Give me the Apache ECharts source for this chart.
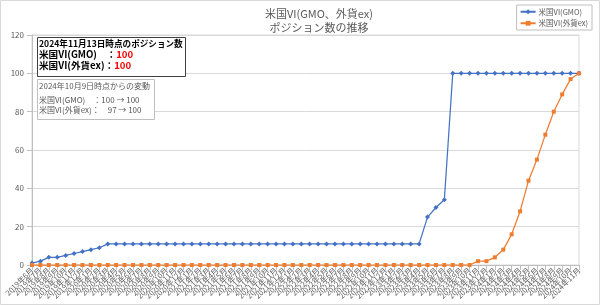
<!DOCTYPE html>
<html><head><meta charset="utf-8">
<script src="https://cdn.jsdelivr.net/npm/echarts@6/dist/echarts.min.js"></script>
<style>html,body{margin:0;padding:0;background:#fff}#c{width:600px;height:305px}</style>
</head><body><div id="c"></div>
<script>
const categories = [
"2019年6月","2019年7月","2019年8月","2019年9月","2019年10月","2019年11月","2019年12月",
"2020年1月","2020年2月","2020年3月","2020年4月","2020年5月","2020年6月","2020年7月","2020年8月","2020年9月","2020年10月","2020年11月","2020年12月",
"2021年1月","2021年2月","2021年3月","2021年4月","2021年5月","2021年6月","2021年7月","2021年8月","2021年9月","2021年10月","2021年11月","2021年12月",
"2022年1月","2022年2月","2022年3月","2022年4月","2022年5月","2022年6月","2022年7月","2022年8月","2022年9月","2022年10月","2022年11月","2022年12月",
"2023年1月","2023年2月","2023年3月","2023年4月","2023年5月","2023年6月","2023年7月","2023年8月","2023年9月","2023年10月","2023年11月","2023年12月",
"2024年1月","2024年2月","2024年3月","2024年4月","2024年5月","2024年6月","2024年7月","2024年8月","2024年9月","2024年10月","2024年11月"
];
const gmoValues = [
1,2,4,4,5,6,7,8,9,11,
11,11,11,11,11,11,11,11,11,11,11,11,11,11,11,11,11,11,11,11,11,11,11,11,11,11,11,11,11,11,11,11,11,11,11,11,11,
25,30,34,
100,100,100,100,100,100,100,100,100,100,100,100,100,100,100,100
];
const gaikaValues = [
0,0,0,0,0,0,0,0,0,0,0,0,0,0,0,0,0,0,0,0,0,0,0,0,0,0,0,0,0,0,0,0,0,0,0,0,0,0,0,0,0,0,0,0,0,0,0,0,0,0,0,0,0,
2,2,4,8,16,28,44,55,68,80,89,97,100
];
const yTicks = [0,20,40,60,80,100,120];
const seriesNames = ["米国VI(GMO)","米国VI(外貨ex)"];

const FONT = '"Noto Sans CJK JP", sans-serif';
const chart = echarts.init(document.getElementById('c'), null, {renderer:'canvas'});
chart.setOption({
  animation:false,
  textStyle:{fontFamily:FONT},
  title:{
    text:'米国VI(GMO、外貨ex)',
    subtext:'ポジション数の推移',
    left:314, textAlign:'center', top:3, itemGap:3,
    textStyle:{fontFamily:FONT,fontSize:11,fontWeight:'normal',color:'#595959'},
    subtextStyle:{fontFamily:FONT,fontSize:11,color:'#595959'}
  },
  legend:{
    orient:'vertical', right:8, top:5,
    data:seriesNames,
    itemWidth:15, itemHeight:6, itemGap:4,
    padding:[3,4,3,3],
    borderColor:'#bfbfbf', borderWidth:1,
    textStyle:{fontFamily:FONT,fontSize:7.5,color:'#595959',padding:[0,0,0,-2]}
  },
  grid:{left:32,right:21,top:35,bottom:40,show:true,borderColor:'#d9d9d9',borderWidth:1},
  xAxis:{
    type:'category', data:categories, boundaryGap:false,
    axisLine:{lineStyle:{color:'#bfbfbf'}},
    axisTick:{show:true,interval:0,lineStyle:{color:'#bfbfbf'}},
    axisLabel:{interval:0,rotate:45,fontSize:7.5,color:'#595959',margin:4,fontFamily:FONT},
    splitLine:{show:false}
  },
  yAxis:{
    type:'value', min:yTicks[0], max:yTicks[yTicks.length-1], interval:20,
    axisLine:{show:true,lineStyle:{color:'#bfbfbf'}},
    axisTick:{show:true,lineStyle:{color:'#bfbfbf'}},
    axisLabel:{fontSize:8,color:'#595959',margin:8,fontFamily:FONT},
    splitLine:{lineStyle:{color:'#d9d9d9'}}
  },
  series:[
    {name:seriesNames[0],type:'line',data:gmoValues,symbol:'diamond',symbolSize:5,
     itemStyle:{color:'#4472C4'},lineStyle:{width:1.25,color:'#4472C4'}},
    {name:seriesNames[1],type:'line',data:gaikaValues,symbol:'rect',symbolSize:4,
     itemStyle:{color:'#ED7D31'},lineStyle:{width:1.25,color:'#ED7D31'}}
  ],
  graphic:[
    {type:'rect',shape:{x:37.5,y:37.5,width:148,height:39},style:{fill:'#fff',stroke:'#404040',lineWidth:1},z:100},
    {type:'text',left:39,top:39,z:101,style:{text:'2024年11月13日時点のポジション数',font:'bold 8.6px '+FONT,fill:'#000'}},
    {type:'text',left:39,top:50,z:101,style:{text:'{a|米国VI(GMO)　：}{r|100}',
      rich:{a:{font:'bold 9.6px '+FONT,fill:'#000'},r:{font:'bold 9.6px '+FONT,fill:'#ff0000'}}}},
    {type:'text',left:39,top:61,z:101,style:{text:'{a|米国VI(外貨ex)：}{r|100}',
      rich:{a:{font:'bold 9.6px '+FONT,fill:'#000'},r:{font:'bold 9.6px '+FONT,fill:'#ff0000'}}}},
    {type:'rect',shape:{x:37.5,y:79.5,width:117,height:40},style:{fill:'#fff',stroke:'#bfbfbf',lineWidth:1},z:100},
    {type:'text',left:39,top:82,z:101,style:{text:'2024年10月9日時点からの変動',font:'8px '+FONT,fill:'#595959'}},
    {type:'text',left:39,top:96,z:101,style:{text:'米国VI(GMO)　：100 → 100',font:'8px '+FONT,fill:'#595959'}},
    {type:'text',left:39,top:106,z:101,style:{text:'米国VI(外貨ex)：　97 → 100',font:'8px '+FONT,fill:'#595959'}},
    {type:'rect',shape:{x:0.5,y:0.5,width:599,height:304},style:{fill:'none',stroke:'#d9d9d9',lineWidth:1},z:0,silent:true}
  ]
});
</script></body></html>
